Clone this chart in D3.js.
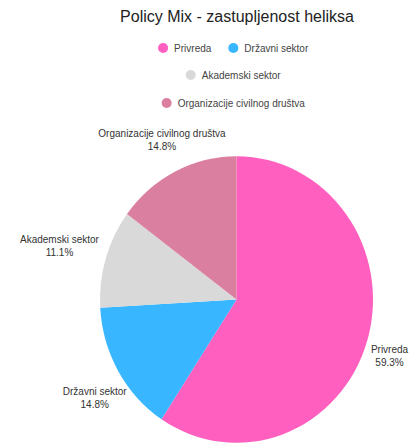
<!DOCTYPE html>
<html><head><meta charset="utf-8">
<script src="https://cdn.jsdelivr.net/npm/d3@7"></script>
<style>body{margin:0;background:#fff}svg{display:block;font-family:"Liberation Sans",Arial,sans-serif}</style>
</head><body>
<svg id="c" width="420" height="446"></svg>
<script>
const categories = ["Privreda","Državni sektor","Akademski sektor","Organizacije civilnog društva"];
const values = [16,4,3,4];
const percentLabels = ["59.3%","14.8%","11.1%","14.8%"];
const colors = ["#ff5fbf","#38b6ff","#d9d9d9","#db7fa0"];

const svg = d3.select("#c");
const cx = 236.5, cy = 299.5, r = 136.5, sy = 1.05;

svg.append("text").attr("x",237).attr("y",22).attr("text-anchor","middle")
  .attr("font-size",16).attr("fill","#222").text("Policy Mix - zastupljenost heliksa");

// legend
const legendRows = [[0,1],[2],[3]];
const legendY = [48,75,103];
legendRows.forEach((row,ri)=>{
  const g = svg.append("g");
  let x = 0;
  row.forEach(i=>{
    const item = g.append("g").attr("transform",`translate(${x},0)`);
    item.append("circle").attr("cx",5).attr("cy",0).attr("r",5).attr("fill",colors[i]);
    const t = item.append("text").attr("x",16).attr("y",3.5).attr("font-size",10).attr("fill","#444").text(categories[i]);
    x += 16 + t.node().getComputedTextLength() + 17;
  });
  const bb = g.node().getBBox();
  g.attr("transform",`translate(${233.5 - bb.width/2},${legendY[ri]})`);
});

const pie = d3.pie().sort(null).value(d=>d)(values);
const arc = d3.arc().innerRadius(0).outerRadius(r);
const gp = svg.append("g").attr("transform",`translate(${cx},${cy}) scale(1,${sy})`);
gp.selectAll("path").data(pie).join("path").attr("d",arc).attr("fill",(d,i)=>colors[i]);

const labelArc = d3.arc().innerRadius(166).outerRadius(166);
const offs = [[-6,7],[2,11],[-18,-4],[0,-4]];
pie.forEach((d,i)=>{
  const [x,y] = labelArc.centroid(d);
  const lx = cx + x + offs[i][0], ly = cy + y*sy + offs[i][1];
  const t = svg.append("text").attr("text-anchor","middle").attr("font-size",10).attr("fill","#333");
  t.append("tspan").attr("x",lx).attr("y",ly-3).text(categories[i]);
  t.append("tspan").attr("x",lx).attr("y",ly+10).text(percentLabels[i]);
});
</script>
</body></html>
